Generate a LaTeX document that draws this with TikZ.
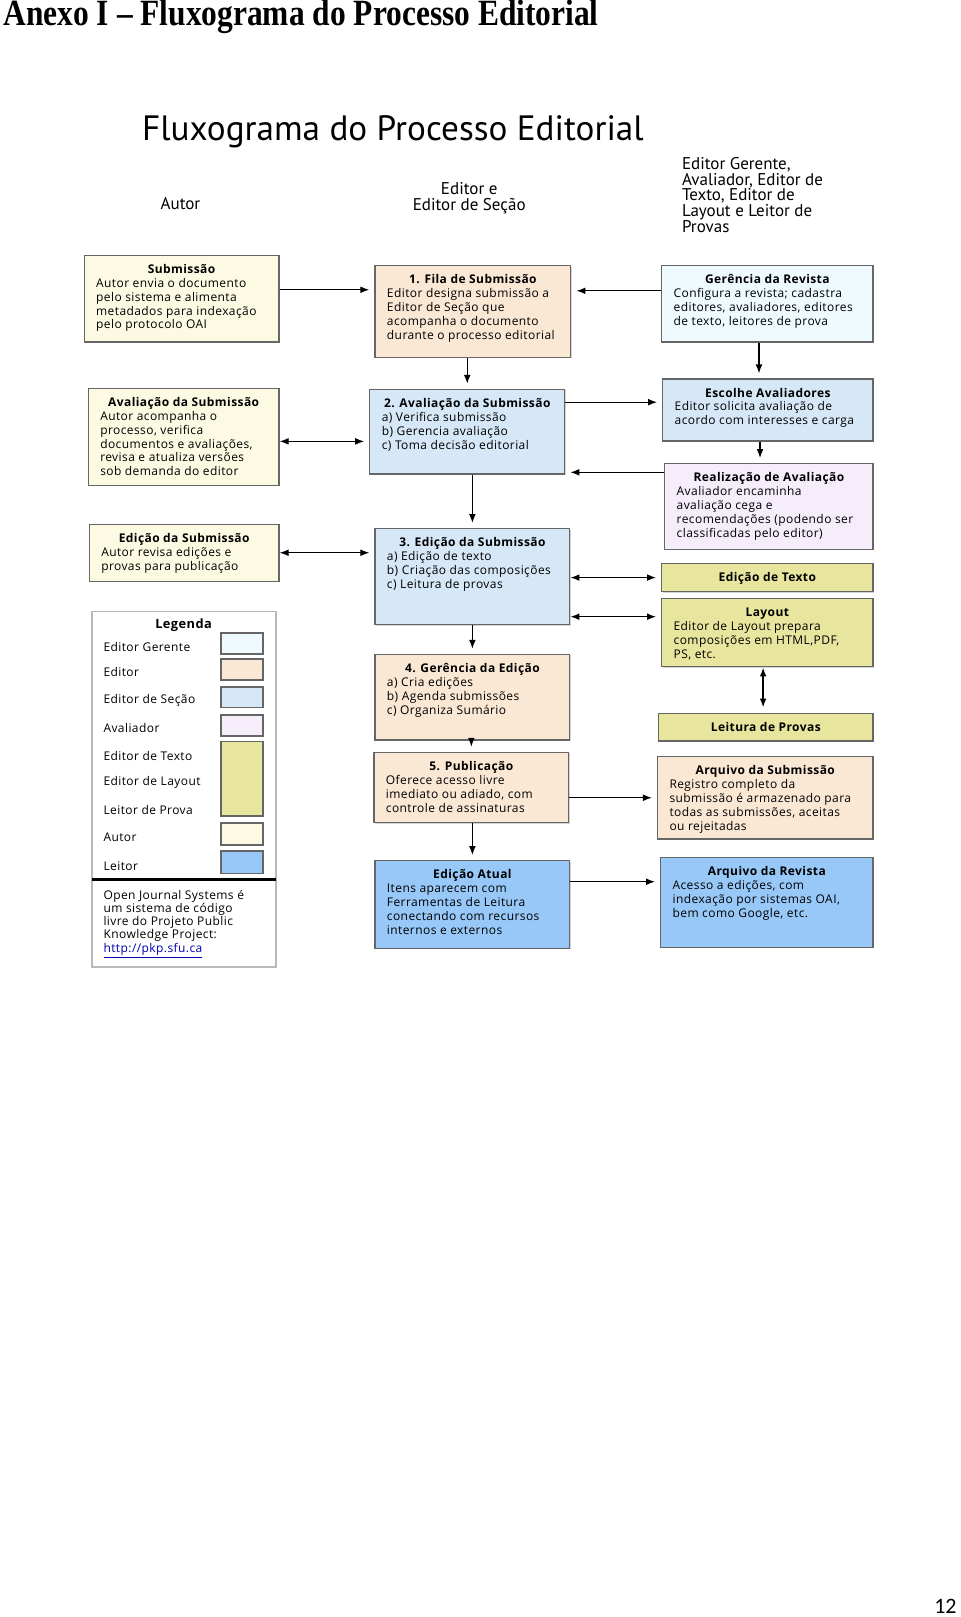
\documentclass[tikz,border=0pt]{standalone}
\usepackage{fontspec}
\setmainfont{Liberation Serif}
\newfontfamily\caixafont[LetterSpace=3.5]{Open Sans}
\newfontfamily\cabfont{PT Sans}
\newfontfamily\numfont{Carlito}
\usetikzlibrary{arrows.meta,shadows}

\definecolor{corgerente}{HTML}{EEFAFE}
\definecolor{coreditor}{HTML}{FAE8D5}
\definecolor{corsecao}{HTML}{D6E8F7}
\definecolor{coravaliador}{HTML}{F5EEFA}
\definecolor{cortexto}{HTML}{E8E69E}
\definecolor{corautor}{HTML}{FCFAE3}
\definecolor{corleitor}{HTML}{98C8F8}
\definecolor{borda}{HTML}{666666}

\newdimen\unid
\unid=0.5156pt
% largura, altura (unidades da figura), titulo, texto
\newcommand{\conteudo}[4]{%
  \parbox[t][\dimexpr#2\unid-6pt\relax][t]{\dimexpr#1\unid-12pt\relax}{%
    {\centering\bfseries\rule{0pt}{6pt}#3\par}\raggedright#4}}

\begin{document}
\begin{tikzpicture}[x=0.5156pt,y=-0.5156pt,
  caixa/.style={draw=borda,line width=0.6pt,inner xsep=6pt,inner ysep=3pt,
    anchor=north west,font=\caixafont\fontsize{6}{6.95}\selectfont,
    drop shadow={shadow xshift=0.5pt,shadow yshift=-0.5pt,opacity=0.35}},
  cab/.style={inner sep=0pt,font=\cabfont\fontsize{8.5}{7.9}\selectfont},
  rotulo/.style={anchor=west,inner sep=0pt,font=\caixafont\fontsize{6}{6.6}\selectfont},
  seta/.style={-{Latex[length=4.5pt,width=3.4pt]},line width=0.6pt,shorten >=2.5pt},
  dupla/.style={{Latex[length=4.5pt,width=3.4pt]}-{Latex[length=4.5pt,width=3.4pt]},
    line width=0.6pt,shorten >=2.5pt},
  amostra/.style={draw=borda,line width=0.9pt}]
\useasboundingbox (0,0) rectangle (931,1568);

\node[anchor=base west,inner sep=0pt,font=\bfseries\fontsize{18.5}{20}\selectfont]
  (anexo) at (3,25) {\scalebox{0.85}[1]{Anexo I – Fluxograma do Processo Editorial}};
\node[inner sep=0pt,font=\cabfont\fontsize{17.6}{20}\selectfont] (titulo) at (381,128)
  {Fluxograma do Processo Editorial};
\node[cab] (colautor) at (175,197) {Autor};
\node[cab,align=center] (coleditor) at (455,192.5) {Editor e\\Editor de Seção};
\node[cab,align=left,anchor=west] (coloutros) at (661,189)
  {Editor Gerente,\\Avaliador, Editor de\\Texto, Editor de\\Layout e Leitor de\\Provas};

\node[caixa,fill=corautor] (submissao) at (81,247) {\conteudo{189}{84}{Submissão}
  {Autor envia o documento\\pelo sistema e alimenta\\metadados para indexação\\pelo protocolo OAI}};
\node[caixa,fill=coreditor] (fila) at (363,257) {\conteudo{190}{89}{1. Fila de Submissão}
  {Editor designa submissão a\\Editor de Seção que\\acompanha o documento\\durante o processo editorial}};
\node[caixa,fill=corgerente] (gerencia) at (641,257) {\conteudo{205}{74}{Gerência da Revista}
  {Configura a revista; cadastra\\editores, avaliadores, editores\\de texto, leitores de prova}};
\node[caixa,fill=corautor] (avalautor) at (85,376) {\conteudo{185}{94}{Avaliação da Submissão}
  {Autor acompanha o\\processo, verifica\\documentos e avaliações,\\revisa e atualiza versões\\sob demanda do editor}};
\node[caixa,fill=corsecao] (avaliacao) at (358,377) {\conteudo{189}{82}{2. Avaliação da Submissão}
  {a) Verifica submissão\\b) Gerencia avaliação\\c) Toma decisão editorial}};
\node[caixa,fill=corsecao] (escolhe) at (642,367) {\conteudo{204}{60}{Escolhe Avaliadores}
  {Editor solicita avaliação de\\acordo com interesses e carga}};
\node[caixa,fill=coravaliador] (realizacao) at (644,449) {\conteudo{202}{83}{Realização de Avaliação}
  {Avaliador encaminha\\avaliação cega e\\recomendações (podendo ser\\classificadas pelo editor)}};
\node[caixa,fill=corautor] (edautor) at (86,508) {\conteudo{184}{55}{Edição da Submissão}
  {Autor revisa edições e\\provas para publicação}};
\node[caixa,fill=corsecao] (edicao) at (363,512) {\conteudo{189}{93}{3. Edição da Submissão}
  {a) Edição de texto\\b) Criação das composições\\c) Leitura de provas}};
\node[caixa,fill=cortexto] (texto) at (641,546) {\conteudo{205}{27}{Edição de Texto}{}};
\node[caixa,fill=cortexto] (layout) at (641,580) {\conteudo{205}{66}{Layout}
  {Editor de Layout prepara\\composições em HTML,PDF,\\PS, etc.}};
\node[caixa,fill=cortexto] (leitura) at (638,691) {\conteudo{208}{27}{Leitura de Provas}{}};
\node[caixa,fill=coreditor] (gestao) at (363,634) {\conteudo{189}{83}{4. Gerência da Edição}
  {a) Cria edições\\b) Agenda submissões\\c) Organiza Sumário}};
\node[caixa,fill=coreditor] (publicacao) at (362,729) {\conteudo{189}{68}{5. Publicação}
  {Oferece acesso livre\\imediato ou adiado, com\\controle de assinaturas}};
\node[caixa,fill=coreditor] (arqsub) at (637,733) {\conteudo{209}{80}{Arquivo da Submissão}
  {Registro completo da\\submissão é armazenado para\\todas as submissões, aceitas\\ou rejeitadas}};
\node[caixa,fill=corleitor] (atual) at (363,834) {\conteudo{189}{85}{Edição Atual}
  {Itens aparecem com\\Ferramentas de Leitura\\conectando com recursos\\internos e externos}};
\node[caixa,fill=corleitor] (arqrev) at (640,831) {\conteudo{206}{87}{Arquivo da Revista}
  {Acesso a edições, com\\indexação por sistemas OAI,\\bem como Google, etc.}};

\draw[seta] (submissao.east |- 0,281) -- (fila.west |- 0,281);
\draw[seta] (gerencia.west |- 0,282) -- (fila.east |- 0,282);
\draw[seta] (avaliacao.north |- fila.south) -- (avaliacao.north);
\draw[seta] (736,0 |- gerencia.south) -- (736,0 |- escolhe.north);
\draw[dupla] (avalautor.east |- 0,428) -- (avaliacao.west |- 0,428);
\draw[seta] (avaliacao.east |- 0,390) -- (escolhe.west |- 0,390);
\draw[seta] (realizacao.west |- 0,458) -- (avaliacao.east |- 0,458);
\draw[seta] (737,0 |- escolhe.south) -- (737,0 |- realizacao.north);
\draw[seta] (edicao.north |- avaliacao.south) -- (edicao.north);
\draw[dupla] (edautor.east |- 0,536) -- (edicao.west |- 0,536);
\draw[dupla] (edicao.east |- texto.west) -- (texto.west);
\draw[dupla] (edicao.east |- 0,598) -- (layout.west |- 0,598);
\draw[dupla,line width=1.3pt] (740,0 |- layout.south) -- (740,0 |- leitura.north);
\draw[seta] (gestao.north |- edicao.south) -- (gestao.north);
\draw[seta] (publicacao.north |- gestao.south) -- (publicacao.north);
\draw[seta] (publicacao.east |- arqsub.west) -- (arqsub.west);
\draw[seta] (atual.north |- publicacao.south) -- (atual.north);
\draw[seta] (atual.east |- 0,855) -- (arqrev.west |- 0,855);

\draw[draw=gray!55,line width=0.9pt,fill=white] (89,593) rectangle (268,938);
\node[inner sep=0pt,font=\caixafont\bfseries\fontsize{6.4}{7}\selectfont] (legenda) at (178,606) {Legenda};
\node[rotulo] (lgerente) at (100,627) {Editor Gerente};
\node[rotulo] (leditor) at (100,652) {Editor};
\node[rotulo] (lsecao) at (100,679) {Editor de Seção};
\node[rotulo] (lavaliador) at (100,706) {Avaliador};
\node[rotulo] (ltexto) at (100,733) {Editor de Texto};
\node[rotulo] (llayout) at (100,759) {Editor de Layout};
\node[rotulo] (lprova) at (100,785.5) {Leitor de Prova};
\node[rotulo] (lautor) at (100,812) {Autor};
\node[rotulo] (lleitor) at (100,839.5) {Leitor};
\draw[amostra,fill=corgerente] (214,614) rectangle (255,634);
\draw[amostra,fill=coreditor] (214,639) rectangle (255,659);
\draw[amostra,fill=corsecao] (214,666) rectangle (255,686);
\draw[amostra,fill=coravaliador] (214,693) rectangle (255,714);
\draw[amostra,fill=cortexto] (214,719) rectangle (255,791);
\draw[amostra,fill=corautor] (214,798) rectangle (255,819);
\draw[amostra,fill=corleitor] (214,825) rectangle (255,847);
\draw[line width=1.2pt] (89,853) -- (268,853);
\node[rotulo,align=left] (ojs) at (100,896.5)
  {Open Journal Systems é\\um sistema de código\\livre do Projeto Public\\Knowledge Project:\\
   \textcolor{blue!70!black}{\underline{http://pkp.sfu.ca}}};

\node[anchor=base east,inner sep=0pt,font=\numfont\fontsize{11}{13}\selectfont]
  (pagina) at (928,1565) {12};
\end{tikzpicture}
\end{document}
